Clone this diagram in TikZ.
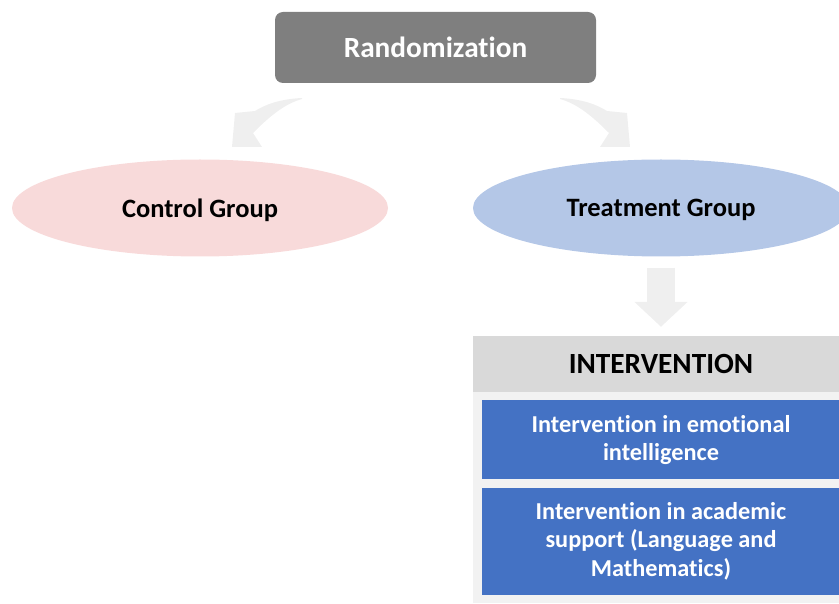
\documentclass[tikz,border=0pt]{standalone}
\usepackage{fontspec}
\setmainfont{Carlito}[Ligatures=NoCommon]
\usetikzlibrary{shapes.geometric,arrows.meta,positioning}

\definecolor{randgray}{HTML}{7F7F7F}
\definecolor{ctrlpink}{HTML}{F8DADA}
\definecolor{treatblue}{HTML}{B4C7E7}
\definecolor{headgray}{HTML}{D9D9D9}
\definecolor{panelgray}{HTML}{F2F2F2}
\definecolor{taskblue}{HTML}{4472C4}
\definecolor{arrowgray}{HTML}{EFEFEF}

\tikzset{
  group/.style={ellipse, minimum width=376pt, minimum height=97pt, inner sep=0pt,
    text depth=0pt, font=\bfseries\fontsize{26.5}{31}\selectfont},
  task/.style={rectangle, fill=taskblue, text=white, minimum width=358pt, inner sep=0pt,
    align=center, font=\bfseries\fontsize{24.3}{28.5}\selectfont},
  fatarrow/.style={arrowgray, line width=28pt, -{Triangle[width=52pt,length=25pt]}}
}

\begin{document}
\begin{tikzpicture}[x=1pt,y=-1pt]

\useasboundingbox (0,0) rectangle (839,604);
\clip (0,0) rectangle (839,604);

\node[rectangle, rounded corners=8pt, fill=randgray, text=white, minimum width=321pt,
  minimum height=71pt, font=\bfseries\fontsize{29.3}{34}\selectfont] (rand) at (435.5,47.5) {Randomization};

\node[group, fill=ctrlpink] (ctrl) at (200,208) {Control Group};
\node[group, fill=treatblue] (treat) at (661,208) {Treatment Group};

% curved arrows from randomization
\foreach \s in {1,-1} {
  \begin{scope}[xshift=431pt, xscale=\s]
    \fill[arrowgray] (-129,98) .. controls (-150,99) and (-165,104) .. (-176,111)
      -- (-196,113) -- (-199,147) -- (-169,147) -- (-178,133)
      .. controls (-162,117) and (-147,104) .. (-129,99) -- cycle;
  \end{scope}
}

\node[rectangle, fill=headgray, minimum width=376pt, minimum height=56pt, inner sep=0pt,
  font=\bfseries\fontsize{29.3}{34}\selectfont] (head) at (661,364) {INTERVENTION};
\node[rectangle, fill=panelgray, minimum width=376pt, minimum height=211pt, inner sep=0pt,
  below=0pt of head] (panel) {};

\draw[fatarrow, shorten <=11pt, shorten >=9pt] (treat.south) -- (head.north);

\node[task, minimum height=79pt, below=8pt of head] (emo) {Intervention in emotional\\intelligence};
\node[task, minimum height=107pt, below=8pt of emo] (acad) {Intervention in academic\\support (Language and\\Mathematics)};

\end{tikzpicture}
\end{document}
